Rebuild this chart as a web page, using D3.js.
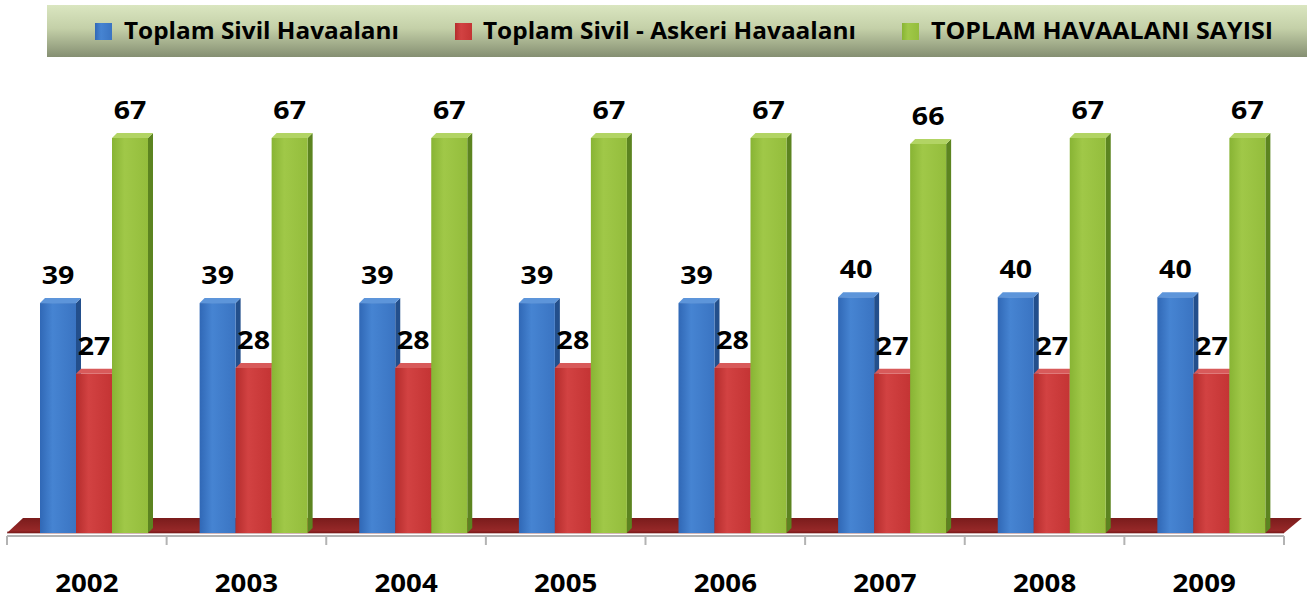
<!DOCTYPE html>
<html>
<head>
<meta charset="utf-8">
<script src="https://cdn.jsdelivr.net/npm/d3@7"></script>
<style>
  html, body { margin: 0; padding: 0; background: #fff; }
  svg { display: block; }
  text { font-family: "Open Sans", "Liberation Sans", sans-serif; font-weight: 700; fill: #000; }
</style>
</head>
<body>
<svg id="chart" width="1310" height="601"></svg>
<script>
const years = ["2002", "2003", "2004", "2005", "2006", "2007", "2008", "2009"];
const seriesNames = ["Toplam Sivil Havaalanı", "Toplam Sivil - Askeri Havaalanı", "TOPLAM HAVAALANI SAYISI"];
const sivil = [39, 39, 39, 39, 39, 40, 40, 40];
const sivilAskeri = [27, 28, 28, 28, 28, 27, 27, 27];
const toplam = [67, 67, 67, 67, 67, 66, 67, 67];
const seriesValues = [sivil, sivilAskeri, toplam];

const svg = d3.select("#chart");
const defs = svg.append("defs");

const palette = [
  { front: ["#3068b6", "#4684d2", "#3a74c2"], top: "#5d95da", side: "#234f8c" },
  { front: ["#b42c2c", "#d24242", "#c43434"], top: "#d85a5a", side: "#8a1e1e" },
  { front: ["#88b434", "#a0c848", "#94bd3c"], top: "#b2d464", side: "#5c8420" }
];
palette.forEach((p, i) => {
  const g = defs.append("linearGradient").attr("id", "front" + i)
    .attr("x1", "0").attr("x2", "1").attr("y1", "0").attr("y2", "0");
  g.append("stop").attr("offset", "0%").attr("stop-color", p.front[0]);
  g.append("stop").attr("offset", "35%").attr("stop-color", p.front[1]);
  g.append("stop").attr("offset", "100%").attr("stop-color", p.front[2]);
});
const lg = defs.append("linearGradient").attr("id", "legendBg")
  .attr("x1", "0").attr("x2", "0").attr("y1", "0").attr("y2", "1");
lg.append("stop").attr("offset", "0%").attr("stop-color", "#dae6c0");
lg.append("stop").attr("offset", "45%").attr("stop-color", "#c4d0a8");
lg.append("stop").attr("offset", "100%").attr("stop-color", "#858f72");
const fg = defs.append("linearGradient").attr("id", "floorG")
  .attr("x1", "0").attr("x2", "0").attr("y1", "0").attr("y2", "1");
fg.append("stop").attr("offset", "0%").attr("stop-color", "#7a1c1c");
fg.append("stop").attr("offset", "100%").attr("stop-color", "#9c2a2a");

// Scales
const x0 = d3.scaleBand().domain(years).range([7, 1284]).paddingInner(0).paddingOuter(0);
const x1 = d3.scaleBand().domain(d3.range(3)).range([33, 141]).padding(0);
const y = d3.scaleLinear().domain([0, 67]).range([533, 138]);
const dx = 5, dy = -5;
const floorFront = 533;

// Legend
svg.append("rect").attr("x", 47).attr("y", 5).attr("width", 1260).attr("height", 52)
  .attr("fill", "url(#legendBg)");
const legendSq = [95, 455, 902];
const legendTx = [124, 483, 931];
const legendLen = [275, 373, 342];
seriesNames.forEach((name, i) => {
  svg.append("rect").attr("x", legendSq[i]).attr("y", 23).attr("width", 17).attr("height", 17)
    .attr("fill", `url(#front${i})`);
  svg.append("text").attr("x", legendTx[i]).attr("y", 38.5)
    .attr("font-size", 23.5)
    .attr("textLength", legendLen[i]).attr("lengthAdjust", "spacingAndGlyphs")
    .text(name);
});

// Floor
const xL = x0.range()[0], xR = x0.range()[1];
svg.append("path")
  .attr("d", `M${xL},${floorFront} L${xR},${floorFront} L${xR + 18},${floorFront - 15} L${xL + 16},${floorFront - 15} Z`)
  .attr("fill", "url(#floorG)");
svg.append("rect").attr("x", xL).attr("y", floorFront - 1.5).attr("width", xR - xL).attr("height", 2)
  .attr("fill", "#6e1616").attr("opacity", 0.6);

// Axis
const axisG = svg.append("g");
axisG.append("line").attr("x1", xL).attr("x2", xR).attr("y1", 536).attr("y2", 536)
  .attr("stroke", "#b3b3b3").attr("stroke-width", 2);
const tickXs = years.map(yy => x0(yy)).concat([xR]);
axisG.selectAll("line.tick").data(tickXs).enter().append("line")
  .attr("class", "tick")
  .attr("x1", d => d).attr("x2", d => d).attr("y1", 536).attr("y2", 545)
  .attr("stroke", "#b3b3b3").attr("stroke-width", 2);

// Bars
const groups = svg.append("g").selectAll("g.grp").data(years).enter().append("g")
  .attr("class", "grp")
  .attr("transform", d => `translate(${x0(d)},0)`);

groups.each(function (yr, gi) {
  const g = d3.select(this);
  for (let s = 0; s < 3; s++) {
    const v = seriesValues[s][gi];
    const bx = x1(s), bw = x1.bandwidth();
    const ty = y(v);
    const p = palette[s];
    g.append("path")
      .attr("d", `M${bx + bw},${ty} L${bx + bw + dx},${ty + dy} L${bx + bw + dx},${floorFront + dy} L${bx + bw},${floorFront} Z`)
      .attr("fill", p.side);
    g.append("rect").attr("x", bx).attr("y", ty).attr("width", bw).attr("height", floorFront - ty)
      .attr("fill", `url(#front${s})`);
    g.append("path")
      .attr("d", `M${bx},${ty} L${bx + dx},${ty + dy} L${bx + bw + dx},${ty + dy} L${bx + bw},${ty} Z`)
      .attr("fill", p.top);
  }
});

// Value labels
groups.each(function (yr, gi) {
  const g = d3.select(this);
  for (let s = 0; s < 3; s++) {
    const v = seriesValues[s][gi];
    const cx = x1(s) + x1.bandwidth() / 2;
    const cy = y(v) - 19;
    g.append("text")
      .attr("transform", `translate(${cx},${cy}) scale(1.12,1)`)
      .attr("text-anchor", "middle")
      .attr("font-size", 25.5)
      .text(v);
  }
});

// Year labels
years.forEach(yr => {
  const cx = x0(yr) + x0.bandwidth() / 2;
  svg.append("text")
    .attr("transform", `translate(${cx},592) scale(1.13,1)`)
    .attr("text-anchor", "middle")
    .attr("font-size", 24.5)
    .text(yr);
});
</script>
</body>
</html>
